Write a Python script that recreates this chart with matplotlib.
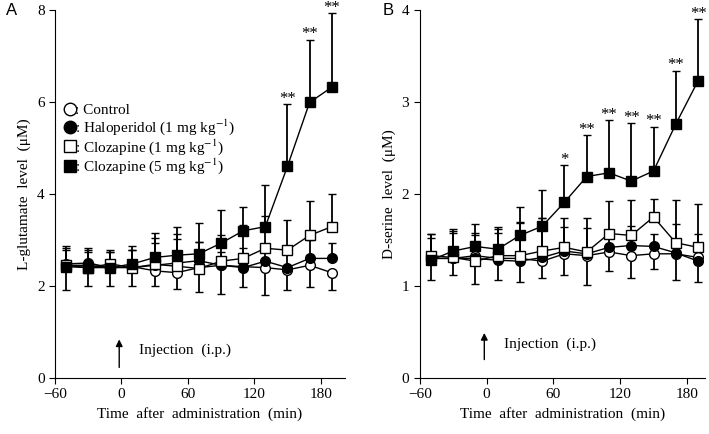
import numpy as np
import matplotlib.pyplot as plt
from matplotlib.lines import Line2D

plt.rcParams['font.family'] = ['Liberation Serif', 'DejaVu Serif']
plt.rcParams['mathtext.fontset'] = 'stix'

times = [-50, -30, -10, 10, 30, 50, 70, 90, 110, 130, 150, 170, 190]

# panel A: L-glutamate (uM)
glu_control = [2.45, 2.45, 2.40, 2.42, 2.33, 2.29, 2.40, 2.45, 2.42, 2.40, 2.35, 2.45, 2.29]
glu_control_low = [1.92, 2.01, 2.01, 2.01, 2.00, 1.94, 1.88, 1.83, 1.98, 1.81, 1.92, 1.98, 1.91]
glu_halo = [2.48, 2.50, 2.40, 2.40, 2.45, 2.50, 2.55, 2.45, 2.40, 2.54, 2.40, 2.60, 2.60]
glu_halo_top = [2.79, 2.74, 2.74, 2.79, 2.94, 3.02, 2.96, 2.75, 2.82, 2.90, 2.80, 3.00, 2.94]
glu_cloz1 = [2.45, 2.40, 2.48, 2.40, 2.47, 2.43, 2.38, 2.54, 2.60, 2.82, 2.78, 3.10, 3.29]
glu_cloz1_top = [2.83, 2.78, 2.79, 2.79, 3.04, 3.12, 2.96, 3.10, 3.33, 3.52, 3.44, 3.85, 4.00]
glu_cloz5 = [2.42, 2.40, 2.40, 2.48, 2.62, 2.67, 2.70, 2.93, 3.20, 3.29, 4.60, 5.99, 6.32]
glu_cloz5_top = [2.87, 2.83, 2.74, 2.88, 3.16, 3.28, 3.36, 3.65, 3.71, 4.20, 5.95, 7.35, 7.93]
glu_stars = {150: '**', 170: '**', 190: '**'}

# panel B: D-serine (uM)
ser_control = [1.30, 1.30, 1.33, 1.30, 1.30, 1.27, 1.35, 1.33, 1.37, 1.33, 1.35, 1.35, 1.31]
ser_control_low = [1.06, 1.12, 1.02, 1.06, 1.04, 1.09, 1.12, 1.01, 1.16, 1.09, 1.19, 1.07, 1.04]
ser_halo = [1.30, 1.30, 1.30, 1.28, 1.27, 1.31, 1.38, 1.35, 1.42, 1.44, 1.43, 1.36, 1.27]
ser_halo_top = [1.52, 1.58, 1.55, 1.58, 1.68, 1.74, 1.64, 1.63, 1.60, 1.65, 1.57, 1.67, 1.56]
ser_cloz1 = [1.33, 1.31, 1.27, 1.33, 1.33, 1.38, 1.42, 1.37, 1.57, 1.55, 1.75, 1.47, 1.42]
ser_cloz1_top = [1.56, 1.60, 1.58, 1.62, 1.70, 1.74, 1.74, 1.74, 1.92, 1.94, 1.95, 1.93, 1.89]
ser_cloz5 = [1.28, 1.38, 1.43, 1.40, 1.55, 1.65, 1.91, 2.19, 2.23, 2.14, 2.25, 2.76, 3.23]
ser_cloz5_top = [1.56, 1.62, 1.67, 1.64, 1.86, 2.04, 2.31, 2.64, 2.80, 2.77, 2.73, 3.34, 3.90]
ser_stars = {70: '*', 90: '**', 110: '**', 130: '**', 150: '**', 170: '**', 190: '**'}

legend_labels = [': Control', ': Haloperidol (1 mg kg$^{-1}$)',
                 ': Clozapine (1 mg kg$^{-1}$)', ': Clozapine (5 mg kg$^{-1}$)']


def draw_series(ax, y, bound, upper, marker, face, ms):
    y = np.array(y)
    bound = np.array(bound)
    if upper:
        err = [np.zeros_like(y), bound - y]
    else:
        err = [y - bound, np.zeros_like(y)]
    ax.errorbar(times, y, yerr=err, color='black', lw=1, elinewidth=1.3,
                capsize=3, capthick=1.3, marker=marker, ms=ms,
                mfc=face, mec='black', mew=1)


def panel(ax, data, ylim, yticks, ylabel, stars, inj):
    ctrl, ctrl_low, halo, halo_top, c1, c1_top, c5, c5_top = data
    draw_series(ax, ctrl, ctrl_low, False, 'o', 'white', 7)
    draw_series(ax, halo, halo_top, True, 'o', 'black', 7)
    draw_series(ax, c1, c1_top, True, 's', 'white', 7)
    draw_series(ax, c5, c5_top, True, 's', 'black', 7)
    for t, s in stars.items():
        top = c5_top[times.index(t)]
        ax.annotate(s, (t, top), xytext=(0, 1), textcoords='offset points',
                    ha='center', va='baseline', fontsize=12,
                    annotation_clip=False)
    ax.set_xlim(-60, ylim[2])
    ax.set_ylim(ylim[0], ylim[1])
    ax.set_xticks([-60, 0, 60, 120, 180])
    ax.set_yticks(yticks)
    ax.spines['top'].set_visible(False)
    ax.spines['right'].set_visible(False)
    ax.tick_params(direction='out', length=4, labelsize=11)
    ax.set_xlabel('Time  after  administration  (min)', fontsize=11)
    ax.set_ylabel(ylabel, fontsize=11)
    ax.annotate('', xy=(-2, inj[1]), xytext=(-2, inj[0]),
                arrowprops=dict(arrowstyle='-|>', color='black', lw=1,
                                mutation_scale=10))
    ax.text(16, inj[2], 'Injection  (i.p.)', fontsize=11, va='center')


fig = plt.figure(figsize=(7.09, 4.34), dpi=100)
axA = fig.add_axes([0.0776, 0.129, 0.409, 0.848])
axB = fig.add_axes([0.592, 0.129, 0.402, 0.848])

panel(axA, [glu_control, glu_control_low, glu_halo, glu_halo_top,
            glu_cloz1, glu_cloz1_top, glu_cloz5, glu_cloz5_top],
      (0, 8, 202), [0, 2, 4, 6, 8], 'L-glutamate  level  (μM)',
      glu_stars, (0.17, 0.9, 0.6))
panel(axB, [ser_control, ser_control_low, ser_halo, ser_halo_top,
            ser_cloz1, ser_cloz1_top, ser_cloz5, ser_cloz5_top],
      (0, 4, 196), [0, 1, 2, 3, 4], 'D-serine  level  (μM)',
      ser_stars, (0.17, 0.52, 0.37))

handles = [Line2D([], [], ls='none', marker='o', ms=9, mfc='white', mec='black'),
           Line2D([], [], ls='none', marker='o', ms=9, mfc='black', mec='black'),
           Line2D([], [], ls='none', marker='s', ms=9, mfc='white', mec='black'),
           Line2D([], [], ls='none', marker='s', ms=9, mfc='black', mec='black')]
axA.legend(handles, legend_labels, loc='upper left', bbox_to_anchor=(0.0, 0.77),
           frameon=False, handlelength=0.7, handletextpad=0.0,
           labelspacing=0.0, borderaxespad=0.2, fontsize=11)

fig.text(0.008, 0.965, 'A', fontsize=12, family='Liberation Sans')
fig.text(0.54, 0.965, 'B', fontsize=12, family='Liberation Sans')

fig.savefig('out.png', dpi=100)
